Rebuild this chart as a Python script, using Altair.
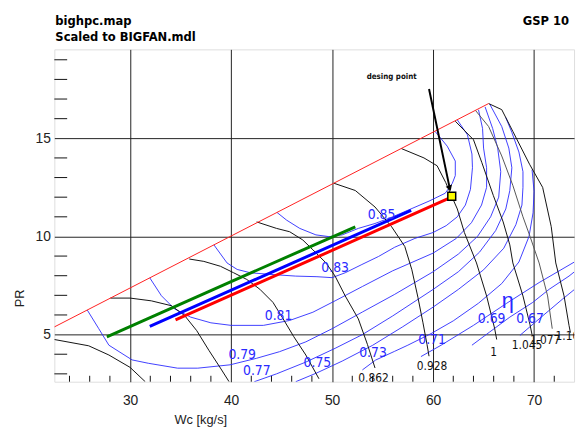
import altair as alt
import pandas as pd

# ---------------- axis ranges / ticks ----------------
X_DOMAIN = [22.5, 73.96]
Y_DOMAIN = [2.6, 19.53]
X_MAJOR = [30, 40, 50, 60, 70]
Y_MAJOR = [5, 10, 15]
X_MINOR = [24, 26, 28, 32, 34, 36, 38, 42, 44, 46, 48, 52, 54, 56, 58, 62, 64, 66, 68, 72]
Y_MINOR = [3, 4, 6, 7, 8, 9, 11, 12, 13, 14, 16, 17, 18, 19]

# ---------------- surge line ----------------
surge = [(22.5, 5.39), (65.5, 16.77)]

# ---------------- speed lines (black) ----------------
spd_a = [(22.5, 4.75), (25.9, 4.43), (27.9, 3.96), (30.0, 3.33), (31.5, 2.6)]
spd_b = [(28.05, 6.86), (30.0, 6.86), (32.1, 6.72), (34.1, 6.47), (35.4, 5.97), (36.6, 5.2),
         (37.8, 4.2), (39.0, 3.25), (39.8, 2.6)]
spd_c = [(35.86, 8.85), (37.3, 8.73), (38.95, 8.48), (40.25, 8.15), (41.55, 7.81), (42.85, 7.31),
         (44.15, 6.64), (45.1, 5.85), (46.2, 4.9), (47.4, 3.96), (48.7, 2.75)]
spd_0862 = [(42.53, 10.74), (44.5, 10.41), (45.8, 10.24), (47.1, 9.82), (48.1, 9.32), (49.4, 8.65),
            (50.3, 7.98), (51.3, 6.97), (52.6, 5.8), (53.5, 4.5), (54.25, 3.3)]
spd_0928 = [(50.18, 12.71), (52.3, 12.34), (54.25, 11.5), (55.9, 10.49), (57.2, 9.49), (57.9, 8.3),
            (58.5, 6.9), (59.0, 5.6), (59.4, 4.5), (59.6, 3.9)]
spd_1000 = [(56.85, 14.48), (59.1, 14.0), (60.4, 13.6), (61.25, 12.75), (61.8, 12.1), (62.4, 11.4),
            (63.1, 10.2), (64.3, 8.65), (65.3, 6.97), (66.1, 5.3), (66.3, 4.75)]
spd_1045 = [(62.2, 15.87), (64.0, 14.93), (64.83, 13.76), (65.97, 12.08), (66.94, 10.74), (67.6, 9.57),
            (67.9, 8.65), (68.9, 6.97), (69.6, 5.5), (69.8, 5.0)]
spd_1077 = [(64.2, 16.42), (65.5, 15.6), (66.8, 14.1), (67.9, 12.6), (68.9, 11.0), (69.6, 10.0),
            (70.5, 8.65), (71.34, 6.97), (71.8, 5.3)]
spd_1100 = [(65.5, 16.77), (66.8, 16.46), (67.9, 15.35), (69.55, 13.68), (70.85, 12.5), (71.7, 10.5),
            (72.15, 8.65), (72.97, 6.97), (73.46, 5.47), (73.6, 5.1)]

# ---------------- efficiency contours (blue) ----------------
eta_085 = [(44.55, 11.22), (45.5, 10.83), (46.8, 10.41), (48.4, 10.08), (49.7, 9.99), (51.0, 10.08),
           (52.6, 10.41), (54.25, 10.66), (56.0, 11.0), (57.8, 11.4), (59.6, 11.8), (61.2, 12.2),
           (61.9, 12.7), (62.2, 13.1), (62.2, 13.84), (61.4, 14.6), (60.2, 15.35)]
eta_083 = [(38.3, 9.57), (39.6, 8.65), (40.6, 8.32), (41.9, 8.15), (43.8, 8.07), (46.4, 7.98),
           (48.5, 7.95), (50.0, 7.9), (51.3, 8.15), (52.95, 8.57), (54.6, 8.98), (56.2, 9.45),
           (58.2, 9.9), (60.0, 10.2), (61.3, 10.55), (62.4, 11.0), (63.2, 11.6), (63.7, 12.4),
           (63.9, 13.5), (63.85, 14.2), (63.4, 15.18), (62.4, 15.94)]
eta_081 = [(31.95, 7.89), (33.1, 6.98), (34.4, 6.31), (36.0, 5.89), (38.0, 5.6), (40.0, 5.47),
           (43.2, 5.47), (45.8, 5.72), (48.1, 6.14), (50.3, 6.72), (53.0, 7.45), (56.0, 8.25),
           (60.0, 9.15), (62.3, 9.9), (63.8, 10.7), (64.8, 11.6), (65.3, 12.5), (65.3, 13.5),
           (65.0, 14.5), (64.9, 15.5), (64.5, 16.45)]
eta_079 = [(25.76, 6.25), (26.9, 5.3), (27.9, 4.46), (30.2, 3.71), (31.8, 3.54), (34.7, 3.29),
           (36.7, 3.29), (39.9, 3.46), (42.5, 3.79), (44.8, 4.13), (47.4, 4.63), (50.0, 5.3),
           (53.0, 6.15), (56.2, 7.05), (60.0, 8.2), (62.5, 9.1), (64.4, 10.0), (65.7, 11.0),
           (66.5, 12.0), (66.7, 13.3), (66.4, 14.5), (65.9, 15.5), (65.15, 16.6)]
eta_077 = [(42.3, 2.6), (44.5, 3.0), (47.4, 3.6), (50.3, 4.3), (53.0, 5.0), (56.0, 5.95), (60.0, 7.3),
           (62.5, 8.2), (64.6, 9.2), (66.2, 10.3), (67.2, 11.4), (67.6, 12.34), (67.8, 13.5),
           (67.5, 14.5), (66.8, 15.6), (65.6, 16.75)]
eta_075 = [(46.4, 2.6), (48.5, 3.05), (51.0, 3.65), (54.0, 4.45), (57.0, 5.4), (60.0, 6.4), (62.5, 7.3),
           (65.0, 8.3), (67.0, 9.4), (68.2, 10.6), (68.8, 11.6), (68.9, 12.5), (68.9, 13.3),
           (68.5, 14.3), (67.8, 15.3), (67.2, 16.06)]
eta_073 = [(53.0, 3.2), (54.3, 3.7), (56.2, 4.15), (57.5, 4.46), (59.8, 5.05), (62.0, 5.7), (64.5, 6.6),
           (66.8, 7.6), (68.5, 8.7), (69.5, 10.0), (69.9, 11.2), (70.0, 12.3), (69.8, 13.4)]
eta_071 = [(58.8, 3.88), (60.8, 4.46), (64.0, 5.47), (67.3, 6.6), (70.5, 7.65), (74.0, 8.7)]
eta_069 = [(63.85, 4.46), (65.6, 5.13), (67.6, 5.89), (69.87, 6.64), (71.5, 7.31), (73.46, 7.98),
           (74.0, 8.2)]
eta_067 = [(68.6, 4.96), (70.5, 5.8), (72.8, 6.8), (74.0, 7.3)]

# ---------------- operating lines ----------------
op_green = [(27.7, 4.88), (40.0, 7.7), (52.3, 10.49)]
op_blue = [(31.95, 5.42), (45.0, 8.4), (57.83, 11.33)]
op_red = [(34.5, 5.75), (48.0, 8.83), (61.6, 11.95)]
op_colors = ["#008000", "#0000ff", "#ff0000"]

design_point = (61.85, 12.05)
arrow_from = (59.6, 17.51)
arrow_to = (61.65, 12.45)

# ---------------- labels ----------------
eta_labels = ["0.85", "0.83", "0.81", "0.79", "0.77", "0.75", "0.73", "0.71", "0.69", "0.67"]
eta_label_x = [54.9, 50.3, 44.7, 41.1, 42.55, 48.55, 54.05, 59.9, 65.8, 69.6]
eta_label_y = [11.08, 8.4, 5.95, 3.95, 3.14, 3.54, 4.05, 4.71, 5.77, 5.77]
spd_labels = ["0.862", "0.928", "1", "1.045", "1.077", "1.10"]
spd_label_x = [54.1, 59.9, 66.0, 69.3, 71.1, 73.3]
spd_label_y = [2.8, 3.38, 4.13, 4.46, 4.7, 4.95]

title_left = ["bighpc.map", "Scaled to BIGFAN.mdl"]
title_right = "GSP 10"

FONT = "Liberation Sans"
NARROW = "Liberation Sans Narrow, DejaVu Sans Condensed, Liberation Sans"


def frame(curves):
    rows = []
    for name, pts in curves:
        for i, (x, y) in enumerate(pts):
            rows.append({"curve": name, "i": i, "x": x, "y": y})
    return pd.DataFrame(rows)


xax = alt.Axis(values=X_MAJOR, grid=True, gridColor="#222", gridWidth=1, domain=False, ticks=False,
               labelFontSize=14, labelPadding=12, labelColor="#222", labelFont=FONT,
               title="Wc [kg/s]", titleFontSize=13, titleFontWeight="normal", titleFont=FONT,
               titleColor="#222", titleX=148, titleY=32, titleAlign="center")
yax = alt.Axis(values=Y_MAJOR, grid=True, gridColor="#222", gridWidth=1, domain=False, ticks=False,
               labelFontSize=14, labelPadding=4, labelColor="#222", labelFont=FONT,
               title="PR", titleFontSize=13, titleFontWeight="normal", titleFont=FONT,
               titleColor="#222", titleX=-28, titleY=252, titleAngle=-90)
xs = alt.Scale(domain=X_DOMAIN, nice=False, zero=False)
ys = alt.Scale(domain=Y_DOMAIN, nice=False, zero=False)


def X(f="x"):
    return alt.X(f + ":Q", scale=xs, axis=xax)


def Y(f="y"):
    return alt.Y(f + ":Q", scale=ys, axis=yax)


speed_df = frame([("a", spd_a), ("b", spd_b), ("c", spd_c), ("0862", spd_0862), ("0928", spd_0928),
                  ("1000", spd_1000), ("1045", spd_1045), ("1100", spd_1100)])
speed_gray_df = frame([("1077", spd_1077)])
eta_df = frame([("085", eta_085), ("083", eta_083), ("081", eta_081), ("079", eta_079), ("077", eta_077),
                ("075", eta_075), ("073", eta_073), ("071", eta_071), ("069", eta_069), ("067", eta_067)])
surge_df = frame([("surge", surge)])

layers = []

# minor ticks
layers.append(alt.Chart(pd.DataFrame({"x": X_MINOR})).mark_rule(color="#111", strokeWidth=1).encode(
    x=X(), y=alt.value(337), y2=alt.value(331)))
layers.append(alt.Chart(pd.DataFrame({"y": Y_MINOR})).mark_rule(color="#111", strokeWidth=1).encode(
    y=Y(), x=alt.value(0), x2=alt.value(13)))

layers.append(alt.Chart(eta_df).mark_line(clip=True, strokeWidth=1, color="#2a2aff", opacity=0.9).encode(
    x=X(), y=Y(), detail="curve:N", order="i:Q"))
layers.append(alt.Chart(speed_df).mark_line(clip=True, strokeWidth=1, color="#111").encode(
    x=X(), y=Y(), detail="curve:N", order="i:Q"))
layers.append(alt.Chart(speed_gray_df).mark_line(clip=True, strokeWidth=1, color="#555").encode(
    x=X(), y=Y(), detail="curve:N", order="i:Q"))
layers.append(alt.Chart(surge_df).mark_line(clip=True, strokeWidth=1, color="#ff2020").encode(
    x=X(), y=Y(), order="i:Q"))

for pts, col in zip([op_green, op_blue, op_red], op_colors):
    layers.append(alt.Chart(frame([("op", pts)])).mark_line(clip=True, strokeWidth=3, color=col).encode(
        x=X(), y=Y(), order="i:Q"))

# arrow + design point
arrow_df = pd.DataFrame({"x": [arrow_from[0]], "y": [arrow_from[1]], "x2": [arrow_to[0]], "y2": [arrow_to[1]]})
layers.append(alt.Chart(arrow_df).mark_rule(color="black", strokeWidth=2).encode(
    x=X(), y=Y(), x2="x2:Q", y2="y2:Q"))
layers.append(alt.Chart(pd.DataFrame({"x": [arrow_to[0]], "y": [arrow_to[1]]})).mark_point(
    shape="triangle-down", filled=True, color="black", size=45, angle=342, opacity=1).encode(x=X(), y=Y()))
layers.append(alt.Chart(pd.DataFrame({"x": [design_point[0]], "y": [design_point[1]]})).mark_square(
    size=64, fill="#ffff00", stroke="black", strokeWidth=1.5, opacity=1).encode(x=X(), y=Y()))
layers.append(alt.Chart(pd.DataFrame({"x": [55.9], "y": [18.12], "t": ["desing point"]})).mark_text(
    font=NARROW, fontSize=8, fontWeight="bold", color="#111").encode(x=X(), y=Y(), text="t:N"))

# labels
layers.append(alt.Chart(pd.DataFrame({"x": eta_label_x, "y": eta_label_y, "t": eta_labels})).mark_text(
    clip=True, font=NARROW, fontSize=14, color="#2a2aff").encode(x=X(), y=Y(), text="t:N"))
layers.append(alt.Chart(pd.DataFrame({"x": spd_label_x, "y": spd_label_y, "t": spd_labels})).mark_text(
    clip=True, font=NARROW, fontSize=12, color="#111").encode(x=X(), y=Y(), text="t:N"))
layers.append(alt.Chart(pd.DataFrame({"x": [67.4], "y": [6.72], "t": ["η"]})).mark_text(
    font=FONT, fontSize=22, color="#2a2aff").encode(x=X(), y=Y(), text="t:N"))

# header texts
one = pd.DataFrame({"k": [0]})
layers.append(alt.Chart(one).mark_text(font=NARROW, fontSize=13, fontWeight="bold", align="left",
                                       baseline="middle", color="black").encode(
    x=alt.value(1), y=alt.value(-29), text=alt.value(title_left[0])))
layers.append(alt.Chart(one).mark_text(font=NARROW, fontSize=13, fontWeight="bold", align="left",
                                       baseline="middle", color="black").encode(
    x=alt.value(1), y=alt.value(-12), text=alt.value(title_left[1])))
layers.append(alt.Chart(one).mark_text(font=NARROW, fontSize=13, fontWeight="bold", align="right",
                                       baseline="middle", color="black").encode(
    x=alt.value(522), y=alt.value(-29), text=alt.value(title_right)))

chart = alt.layer(*layers).properties(
    width=527, height=337, autosize="none",
    padding={"left": 47, "top": 39, "right": 4, "bottom": 45}
).configure_view(stroke="black", strokeWidth=2).configure(font=FONT)

chart.save("out.html", embed_options={"renderer": "svg", "actions": False})
